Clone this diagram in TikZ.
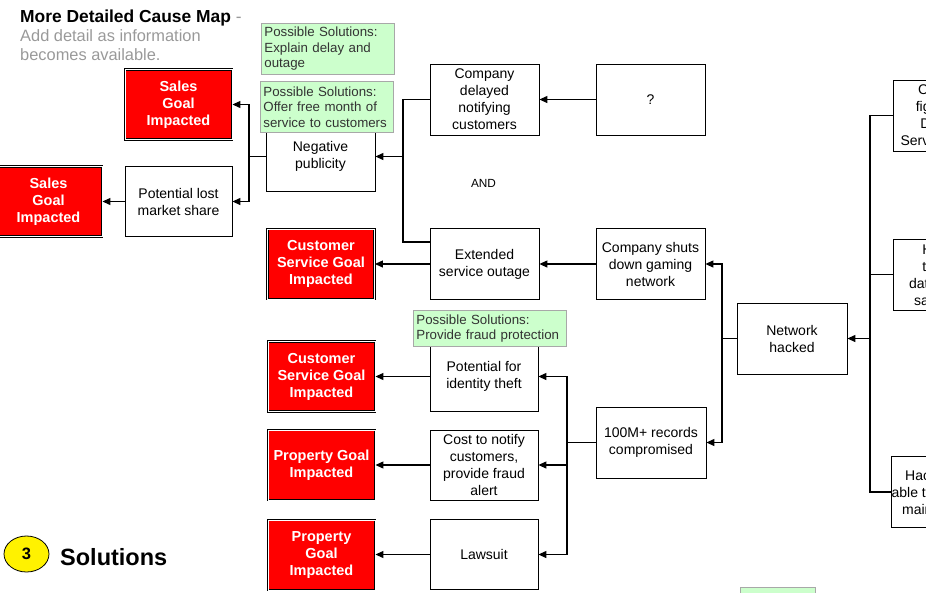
\documentclass[tikz,border=0pt]{standalone}
\usepackage{fontspec}
\setmainfont{Liberation Sans}
\usetikzlibrary{arrows.meta,shapes.geometric}
\definecolor{solgreen}{HTML}{CCFFCC}
\definecolor{solborder}{HTML}{A8A8A8}
\definecolor{soltext}{HTML}{333333}
\definecolor{subgray}{HTML}{999999}
\tikzset{
 cbox/.style={draw=black, line width=0.8pt, fill=white, align=center, inner sep=0pt,
   font=\fontsize{14}{17}\selectfont, minimum width=109pt, minimum height=71pt},
 goal/.style={draw=black, double=white, double distance=1pt, line width=0.9pt, fill=red,
   text=white, align=center, inner sep=0pt, font=\fontsize{14.5}{17}\selectfont\bfseries,
   minimum width=107pt, minimum height=70pt},
 sol/.style={draw=solborder, line width=0.8pt, fill=solgreen, text=soltext, align=left,
   inner xsep=3pt, inner ysep=0pt, font=\fontsize{13.3}{15.5}\selectfont, anchor=north west},
 link/.style={line width=1.2pt, draw=black},
 arr/.style={link, -{Triangle[length=8pt,width=7pt]}},
}
\begin{document}
\begin{tikzpicture}[x=1pt,y=-1pt]
\useasboundingbox (0,0) rectangle (926,592);
\clip (0,0) rectangle (926,592);

% title
\node[anchor=base west, inner sep=0pt, font=\fontsize{17.4}{20}\selectfont] (title) at (20,22)
  {\textbf{More Detailed Cause Map}\ \textcolor{subgray}{-}};
\node[anchor=base west, inner sep=0pt, text=subgray, font=\fontsize{16.4}{19}\selectfont] (sub1) at (20,41) {Add detail as information};
\node[anchor=base west, inner sep=0pt, text=subgray, font=\fontsize{16.4}{19}\selectfont] (sub2) at (20,60) {becomes available.};

% goal boxes
\node[goal] (s1) at (178.5,104.5) {Sales\\Goal\\Impacted};
\node[goal] (s2) at (48.5,201.5) {Sales\\Goal\\Impacted};
\node[goal] (cs1) at (321,264) {Customer\\Service Goal\\Impacted};
\node[goal] (cs2) at (321.5,376.5) {Customer\\Service Goal\\Impacted};
\node[goal] (pg1) at (321.5,465) {Property Goal\\Impacted};
\node[goal] (pg2) at (321.5,555) {Property\\Goal\\Impacted};

% cause boxes
\node[cbox, minimum width=107pt, minimum height=70pt] (plms) at (178.5,201.5) {Potential lost\\market share};
\node[cbox, minimum height=70pt] (np) at (320.5,156.5) {Negative\\publicity};
\node[cbox] (cdnc) at (484.5,99.5) {Company\\delayed\\notifying\\customers};
\node[cbox] (q) at (650.5,99.5) {?};
\node[cbox] (eso) at (484.5,264) {Extended\\service outage};
\node[cbox] (csgn) at (650.5,264) {Company shuts\\down gaming\\network};
\node[cbox, minimum width=110pt] (nh) at (792,338.5) {Network\\hacked};
\node[cbox, minimum width=110pt] (rec) at (651,442.5) {100M+ records\\compromised};
\node[cbox, minimum width=108pt, minimum height=70pt] (pit) at (484,376.5) {Potential for\\identity theft};
\node[cbox, minimum width=108pt, minimum height=70pt] (ctn) at (484,465) {Cost to notify\\customers,\\provide fraud\\alert};
\node[cbox, minimum width=108pt, minimum height=70pt] (ls) at (484,554.5) {Lawsuit};
\node[cbox, minimum width=110pt] (r1) at (948,115.5) {Company\\fighting off\\Denial of\\Service attacks};
\node[cbox, minimum width=110pt] (r2) at (948,274.5) {Hackers\\targeted\\database for\\sale of info};
\node[cbox, minimum width=110pt] (r3) at (948,492) {Hackers were\\able to access the\\main database};

\node[font=\fontsize{11.8}{14}\selectfont, inner sep=0pt] (and) at (483.5,183) {AND};

% junctions
\coordinate (j1) at (249,156.5);
\coordinate (j2) at (403,156.5);
\coordinate (esoin) at (430,242);
\coordinate (j3) at (722,338.5);
\coordinate (j4) at (567,442.5);
\coordinate (j5) at (870,338.5);

% connectors
\draw[arr] (np.west) -- (j1) |- (s1.east);
\draw[arr] (j1) |- (plms.east);
\draw[arr] (plms.west) -- (plms.west -| s2.east);
\draw[link] (cdnc.west) -| (j2) |- (esoin);
\draw[arr] (j2) -- (np.east);
\draw[arr] (q.west) -- (cdnc.east);
\draw[arr] (csgn.west) -- (eso.east);
\draw[arr] (eso.west) -- (eso.west -| cs1.east);
\draw[arr] (nh.west) -- (j3) |- (csgn.east);
\draw[arr] (j3) |- (rec.east);
\draw[arr] (rec.west) -- (j4) |- (pit.east);
\draw[arr] (j4) |- (ctn.east);
\draw[arr] (j4) |- (ls.east);
\draw[arr] (pit.west) -- (pit.west -| cs2.east);
\draw[arr] (ctn.west) -- (ctn.west -| pg1.east);
\draw[arr] (ls.west) -- (ls.west -| pg2.east);
\draw[link] (r1.west) -| (j5);
\draw[link] (r2.west) -| (j5);
\draw[link] (r3.west) -| (j5);
\draw[arr] (j5) -- (nh.east);

% solution notes
\node[sol, text width=127pt, minimum height=51pt] (g1) at (261,23) {Possible Solutions:\\Explain delay and\\outage};
\node[sol, text width=127pt, minimum height=51pt] (g2) at (260,81) {Possible Solutions:\\Offer free month of\\service to customers};
\node[sol, text width=147pt, minimum height=36pt] (g3) at (413,310) {Possible Solutions:\\Provide fraud protection};
\node[sol, minimum width=75pt, minimum height=20pt] (g4) at (740,587) {};

% bottom heading
\node[ellipse, draw=black, line width=0.8pt, fill=yellow, minimum width=45pt, minimum height=36pt,
  inner sep=0pt, font=\fontsize{16.5}{19}\selectfont\bfseries] (num) at (26.5,554) {3};
\node[anchor=base west, inner sep=0pt, font=\fontsize{23.5}{28}\selectfont\bfseries] (soltitle) at (60,565) {Solutions};
\end{tikzpicture}
\end{document}
